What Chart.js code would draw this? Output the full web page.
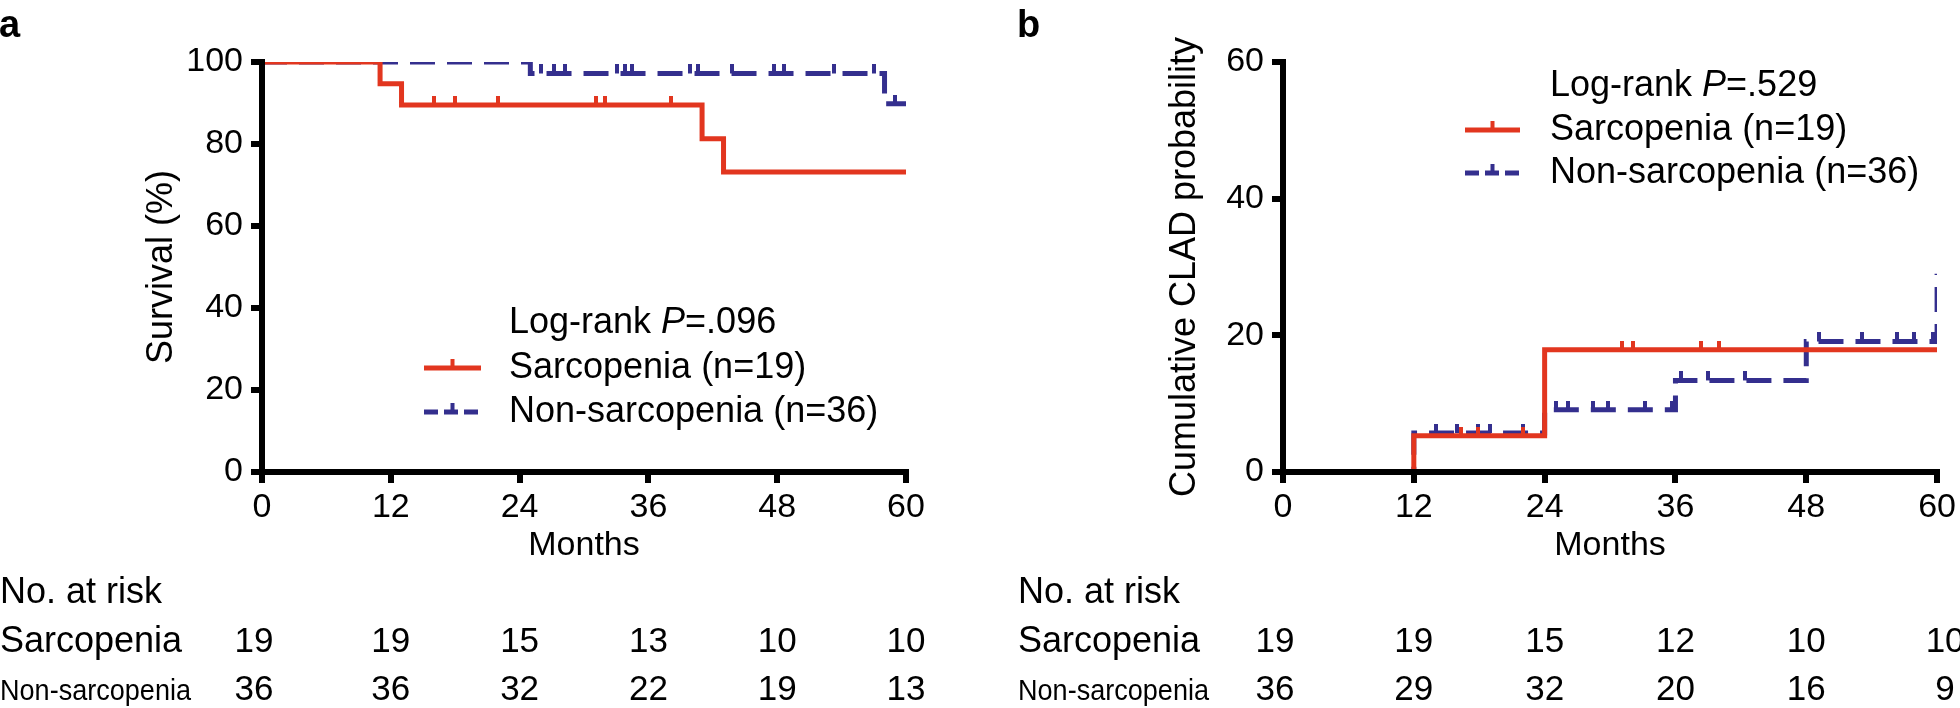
<!DOCTYPE html>
<html>
<head>
<meta charset="utf-8">
<script src="https://cdn.jsdelivr.net/npm/chart.js@4.4.1/dist/chart.umd.min.js"></script>
<style>
  html, body { margin: 0; padding: 0; background: #fff; }
  #wrap { position: relative; width: 1960px; height: 708px; overflow: hidden; }
  canvas { position: absolute; top: 0; }
  #survChart { left: 0; }
  #cladChart { left: 980px; }
</style>
</head>
<body>
<div id="wrap">
  <canvas id="survChart" width="980" height="708"></canvas>
  <canvas id="cladChart" width="980" height="708"></canvas>
</div>
<script>
// axis ticks
const xTicks = [0, 12, 24, 36, 48, 60];
const survTicks = [0, 20, 40, 60, 80, 100];
const cladTicks = [0, 20, 40, 60];
const groups = ['Sarcopenia (n=19)', 'Non-sarcopenia (n=36)'];
const riskRows = ['Sarcopenia', 'Non-sarcopenia'];

// panel a - survival (%), step times and values
const survSarcT = [0, 11, 13, 41, 43, 60];
const survSarcV = [100, 94.7, 89.5, 81.3, 73.2, 73.2];
const survSarcCens = [16, 18, 22, 31.1, 32, 38.1];
const survNonT = [0, 25, 58, 60];
const survNonV = [100, 97.2, 89.8, 89.8];
const survNonCens = [26, 27.2, 28.2, 33.1, 33.8, 34.5, 39.9, 40.6, 43.8, 47.7, 48.6, 53.3, 57, 59];
const survRiskSarc = [19, 19, 15, 13, 10, 10];
const survRiskNon = [36, 36, 32, 22, 19, 13];

// panel b - cumulative CLAD probability
const cladSarcT = [0, 12, 24, 60];
const cladSarcV = [0, 5.3, 17.9, 17.9];
const cladSarcCens = [16.3, 17.9, 22, 31.1, 32.1, 38.3, 40];
const cladNonT = [0, 12, 24, 36, 48, 60];
const cladNonV = [0, 5.7, 9.1, 13.4, 19.1, 29];
const cladNonCens = [14, 16, 17.9, 19, 22, 25, 26.1, 28.4, 29.8, 33.2, 35.7, 36.5, 39, 42.4, 49.2, 53.1, 56.3, 57.9, 59.6];
const cladRiskSarc = [19, 19, 15, 12, 10, 10];
const cladRiskNon = [36, 29, 32, 20, 16, 9];

const RED = '#e2361f';
const BLUE = '#342f8e';
const FONT = "'Liberation Sans', Arial, Helvetica, sans-serif";
Chart.defaults.font.family = FONT;
Chart.defaults.color = '#000';

function stepAt(times, vals, t) {
  let v = vals[0];
  for (let i = 0; i < times.length; i++) if (times[i] <= t) v = vals[i];
  return v;
}
function curve(times, vals) {
  return times.map((t, i) => ({ x: t, y: vals[i] }));
}
function censored(times, vals, cens) {
  return cens.map(t => ({ x: t, y: stepAt(times, vals, t) }));
}

// little upward tick used for censored cases
function tickMark(color) {
  const c = document.createElement('canvas');
  c.width = 4; c.height = 18;
  const g = c.getContext('2d');
  g.fillStyle = color;
  g.fillRect(0, 0, 4, 9);
  return c;
}

function datasets(sT, sV, sC, nT, nV, nC) {
  return [
    { label: groups[0], data: curve(sT, sV), borderColor: RED, borderWidth: 5, stepped: true, pointRadius: 0, fill: false },
    { label: groups[0], data: censored(sT, sV, sC), showLine: false, pointRadius: 3, pointStyle: tickMark(RED) },
    { label: groups[1], data: curve(nT, nV), borderColor: BLUE, borderWidth: 5, borderDash: [25, 12], stepped: true, pointRadius: 0, fill: false },
    { label: groups[1], data: censored(nT, nV, nC), showLine: false, pointRadius: 3, pointStyle: tickMark(BLUE) }
  ];
}

const extras = {
  id: 'extras',
  afterDraw(chart, args, o) {
    const ctx = chart.ctx;
    const xs = chart.scales.x;
    ctx.save();
    ctx.fillStyle = '#000';
    ctx.textAlign = 'left';
    ctx.textBaseline = 'alphabetic';

    // panel letter
    ctx.font = 'bold 38px ' + FONT;
    ctx.fillText(o.letter, o.labelX - 1, 37);

    // legend
    ctx.textBaseline = 'middle';
    let x = o.legX;
    ctx.font = '36px ' + FONT;
    ctx.fillText('Log-rank ', x, o.legY[0]);
    x += ctx.measureText('Log-rank ').width;
    ctx.font = 'italic 36px ' + FONT;
    ctx.fillText('P', x, o.legY[0]);
    x += ctx.measureText('P').width;
    ctx.font = '36px ' + FONT;
    ctx.fillText(o.pText, x, o.legY[0]);
    [RED, BLUE].forEach((col, i) => {
      const y = o.legY[i + 1];
      ctx.strokeStyle = col;
      ctx.lineWidth = 5;
      ctx.setLineDash(i === 1 ? [14, 6] : []);
      ctx.beginPath();
      ctx.moveTo(o.lineX[0], y);
      ctx.lineTo(o.lineX[1], y);
      ctx.stroke();
      ctx.setLineDash([]);
      ctx.fillStyle = col;
      ctx.fillRect((o.lineX[0] + o.lineX[1]) / 2 - 2, y - 9, 4, 9);
      ctx.fillStyle = '#000';
      ctx.fillText(groups[i], o.legX, y);
    });

    // number at risk table
    ctx.textBaseline = 'alphabetic';
    ctx.font = '36px ' + FONT;
    ctx.fillText('No. at risk', o.labelX, 603);
    ctx.fillText(riskRows[0], o.labelX, 652);
    ctx.save();
    ctx.font = '30px ' + FONT;
    const w = ctx.measureText(riskRows[1]).width;
    ctx.translate(o.labelX, 700);
    ctx.scale(191 / w, 1);
    ctx.fillText(riskRows[1], 0, 0);
    ctx.restore();
    ctx.font = '35px ' + FONT;
    ctx.textAlign = 'center';
    const last = xTicks.length - 1;
    [o.risk0, o.risk1].forEach((row, r) => {
      row.forEach((n, i) => {
        let px = xs.getPixelForValue(xTicks[i]);
        if (i === 0) px -= 8;
        if (i === last) px += o.lastShift;
        ctx.fillText(String(n), px, r === 0 ? 652 : 700);
      });
    });
    ctx.restore();
  }
};

function options(cfg) {
  return {
    responsive: false,
    animation: false,
    events: [],
    layout: { padding: { top: 62, right: cfg.right, left: 0, bottom: 0 } },
    plugins: {
      legend: { display: false },
      tooltip: { enabled: false },
      extras: cfg.extras
    },
    scales: {
      x: {
        type: 'linear', min: 0, max: 60, z: 1,
        afterBuildTicks: s => { s.ticks = xTicks.map(v => ({ value: v })); },
        afterFit: s => { s.height = 236; },
        grid: { drawOnChartArea: false, tickLength: 11, lineWidth: 6, color: '#000' },
        border: { display: true, width: 6, color: '#000', z: 1 },
        ticks: { color: '#000', font: { size: 34 }, padding: 4, maxRotation: 0, autoSkip: false },
        title: { display: true, text: 'Months', color: '#000', font: { size: 34 }, padding: { top: 0, bottom: 142 } }
      },
      y: {
        type: 'linear', min: 0, max: cfg.ymax, z: 1,
        afterBuildTicks: s => { s.ticks = cfg.yTicks.map(v => ({ value: v })); },
        afterFit: s => { s.width = cfg.yWidth; },
        grid: { drawOnChartArea: false, tickLength: 11, lineWidth: 6, color: '#000' },
        border: { display: true, width: 6, color: '#000', z: 1 },
        ticks: { color: '#000', font: { size: 34 }, padding: 8 },
        title: { display: true, text: cfg.yTitle, color: '#000', font: { size: 36 }, padding: { top: cfg.titlePad, bottom: 0 } }
      }
    }
  };
}

new Chart('survChart', {
  type: 'line',
  data: { datasets: datasets(survSarcT, survSarcV, survSarcCens, survNonT, survNonV, survNonCens) },
  options: options({
    right: 74, ymax: 100, yTicks: survTicks, yWidth: 262, yTitle: 'Survival (%)', titlePad: 140,
    extras: { letter: 'a', labelX: 0, pText: '=.096', legX: 509, legY: [323, 368, 412], lineX: [424, 481],
              risk0: survRiskSarc, risk1: survRiskNon, lastShift: 0 }
  }),
  plugins: [extras]
});

new Chart('cladChart', {
  type: 'line',
  data: { datasets: datasets(cladSarcT, cladSarcV, cladSarcCens, cladNonT, cladNonV, cladNonCens) },
  options: options({
    right: 22, ymax: 60, yTicks: cladTicks, yWidth: 303, yTitle: 'Cumulative CLAD probability', titlePad: 183,
    extras: { letter: 'b', labelX: 38, pText: '=.529', legX: 570, legY: [86, 130, 173], lineX: [485, 540],
              risk0: cladRiskSarc, risk1: cladRiskNon, lastShift: 8 }
  }),
  plugins: [extras]
});
</script>
</body>
</html>
